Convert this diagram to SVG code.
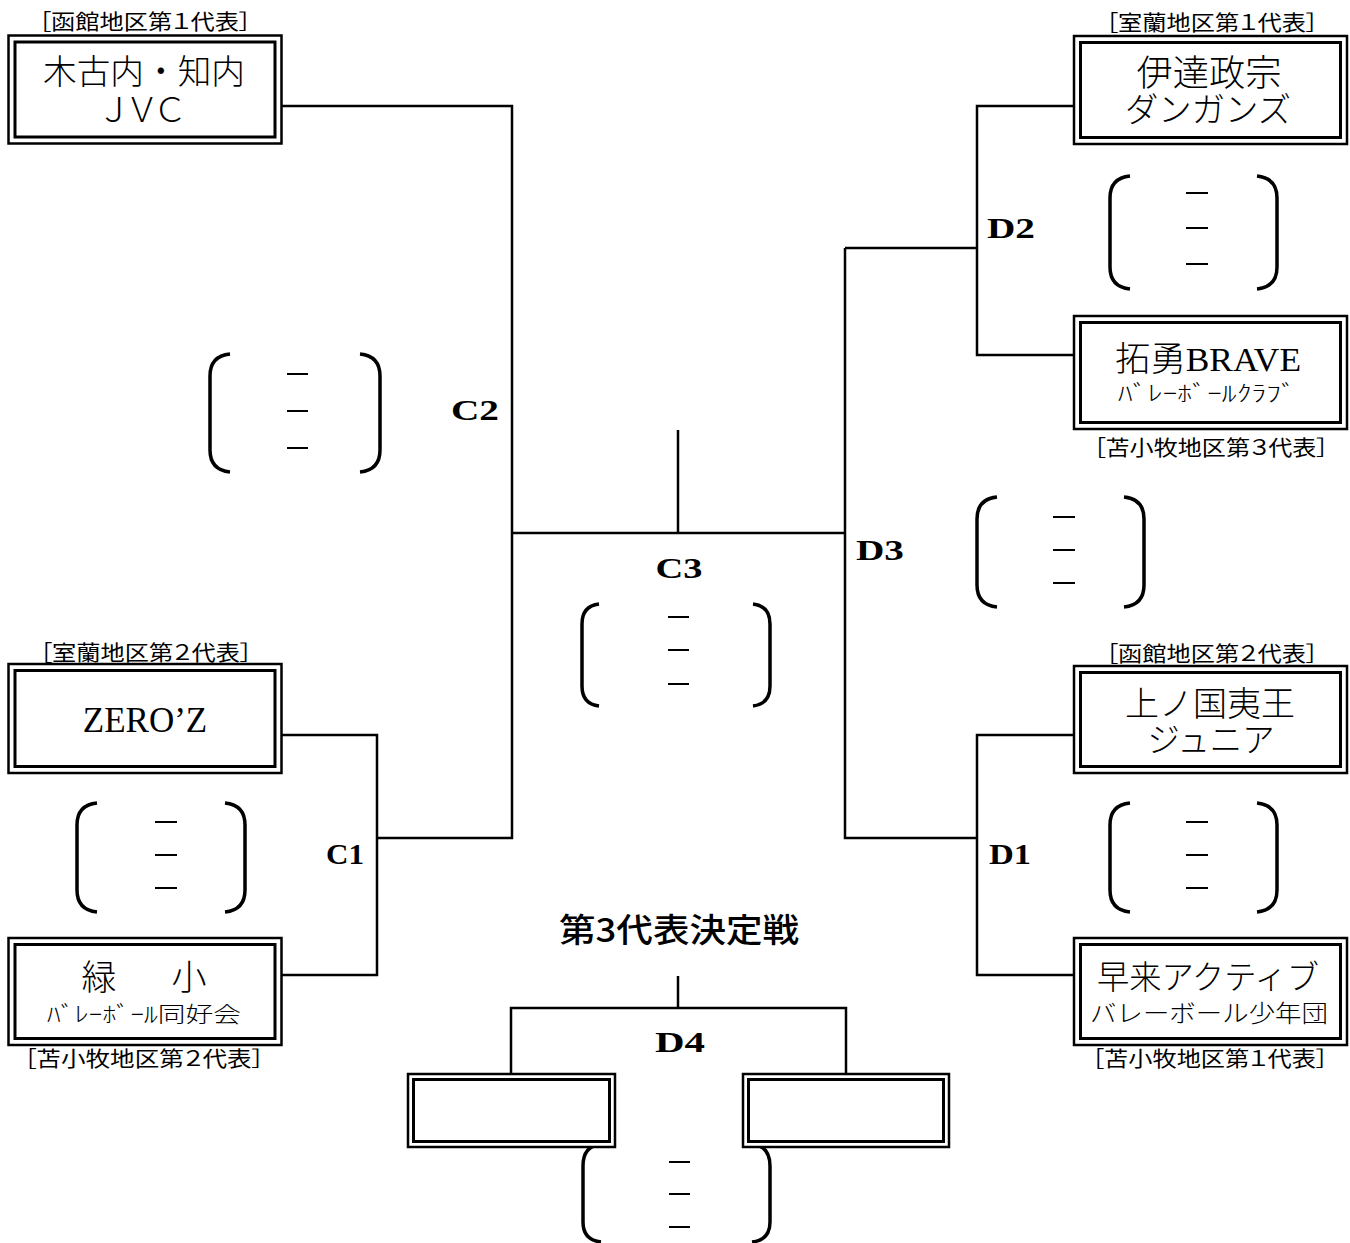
<svg xmlns="http://www.w3.org/2000/svg" width="1350" height="1243" viewBox="0 0 1350 1243">
<style>
.outer{fill:#fff;stroke:#000;stroke-width:2.5}
.inner{fill:none;stroke:#000;stroke-width:3}
.conn path{fill:none;stroke:#000;stroke-width:2.5}
.paren{fill:none;stroke:#000;stroke-width:3.5}
.dash{stroke:#000;stroke-width:2}
.name{font-family:"Liberation Serif","Noto Sans CJK JP",serif;font-weight:300;text-anchor:middle;fill:#000}
.lab{font-family:"Noto Sans CJK JP",sans-serif;font-size:21px;text-anchor:middle;fill:#000;font-feature-settings:"palt"}
.code{font-family:"Liberation Serif",serif;font-weight:bold;font-size:30px;text-anchor:middle;fill:#000}
.title{font-family:"Noto Sans CJK JP",sans-serif;font-weight:500;font-size:33px;text-anchor:middle;fill:#000}
</style>
<rect width="1350" height="1243" fill="#fff"/>

<g id="connectors" class="conn">
<path d="M281.75,106 H512 V838 H377"/>
<path d="M281.75,735 H377 V975 H281.75"/>
<path d="M512,533 H845"/>
<path d="M678,430 V533"/>
<path d="M845,248 V838 H977"/>
<path d="M845,248 H977"/>
<path d="M1074,106 H977 V355 H1074"/>
<path d="M1074,735 H977 V975 H1074"/>
<path d="M678,976 V1008"/>
<path d="M511,1074 V1008 H846 V1074"/>
</g>

<g id="node-kikonai">
<text class="lab" x="145" y="29" textLength="212" lengthAdjust="spacingAndGlyphs">［函館地区第１代表］</text>
<rect class="outer" x="8.5" y="35.5" width="273" height="108"/>
<rect class="inner" x="15" y="42" width="260" height="95"/>
<text class="name" x="144" y="84" font-size="34" textLength="202" lengthAdjust="spacingAndGlyphs">木古内・知内</text>
<text class="name" x="142" y="122" font-size="34" textLength="90" lengthAdjust="spacing">ＪＶＣ</text>
</g>

<g id="node-date">
<text class="lab" x="1212" y="30" textLength="212" lengthAdjust="spacingAndGlyphs">［室蘭地区第１代表］</text>
<rect class="outer" x="1074" y="36" width="273" height="108"/>
<rect class="inner" x="1080.5" y="42.5" width="260" height="95"/>
<text class="name" x="1209" y="86" font-size="36" textLength="145" lengthAdjust="spacingAndGlyphs">伊達政宗</text>
<text class="name" x="1208" y="122" font-size="34" textLength="166" lengthAdjust="spacingAndGlyphs">ダンガンズ</text>
</g>

<g id="node-takuyu">
<rect class="outer" x="1074" y="316" width="273" height="113"/>
<rect class="inner" x="1080.5" y="322.5" width="260" height="100"/>
<text class="name" x="1208" y="371" font-size="34" textLength="186" lengthAdjust="spacingAndGlyphs">拓勇BRAVE</text>
<text class="name" x="1207" y="401" font-size="22" textLength="178" lengthAdjust="spacingAndGlyphs">ﾊﾞﾚｰﾎﾞｰﾙｸﾗﾌﾞ</text>
<text class="lab" x="1211" y="455" textLength="235" lengthAdjust="spacingAndGlyphs">［苫小牧地区第３代表］</text>
</g>

<g id="node-zero">
<text class="lab" x="146" y="660" textLength="212" lengthAdjust="spacingAndGlyphs">［室蘭地区第２代表］</text>
<rect class="outer" x="8.5" y="664" width="273" height="109"/>
<rect class="inner" x="15" y="670.5" width="260" height="96"/>
<text class="name" x="145" y="732" font-size="35">ZERO’Z</text>
</g>

<g id="node-midori">
<rect class="outer" x="8.5" y="938" width="273" height="107"/>
<rect class="inner" x="15" y="944.5" width="260" height="94"/>
<text class="name" x="144" y="990" font-size="35" textLength="125" lengthAdjust="spacing">緑　　小</text>
<text class="name" x="144" y="1022" font-size="22" textLength="194" lengthAdjust="spacingAndGlyphs">ﾊﾞﾚｰﾎﾞｰﾙ同好会</text>
<text class="lab" x="144" y="1066" textLength="240" lengthAdjust="spacingAndGlyphs">［苫小牧地区第２代表］</text>
</g>

<g id="node-kaminokuni">
<text class="lab" x="1212" y="661" textLength="212" lengthAdjust="spacingAndGlyphs">［函館地区第２代表］</text>
<rect class="outer" x="1074" y="666" width="273" height="107"/>
<rect class="inner" x="1080.5" y="672.5" width="260" height="94"/>
<text class="name" x="1210" y="716" font-size="34" textLength="170" lengthAdjust="spacingAndGlyphs">上ノ国夷王</text>
<text class="name" x="1211" y="752" font-size="34" textLength="127" lengthAdjust="spacingAndGlyphs">ジュニア</text>
</g>

<g id="node-hayakita">
<rect class="outer" x="1074" y="938" width="273" height="107"/>
<rect class="inner" x="1080.5" y="944.5" width="260" height="94"/>
<text class="name" x="1208" y="989" font-size="33" textLength="222" lengthAdjust="spacingAndGlyphs">早来アクティブ</text>
<text class="name" x="1209" y="1022" font-size="24" textLength="238" lengthAdjust="spacingAndGlyphs">バレーボール少年団</text>
<text class="lab" x="1210" y="1066" textLength="236" lengthAdjust="spacingAndGlyphs">［苫小牧地区第１代表］</text>
</g>

<g id="score-c2">
<path class="paren" d="M230,354 Q210,356 210,376 V450 Q210,470 230,472"/>
<path class="paren" d="M360,354 Q380,356 380,376 V450 Q380,470 360,472"/>
<path class="dash" d="M287,374 H308 M287,411 H308 M287,448 H308"/>
</g>
<g id="score-c1">
<path class="paren" d="M97,803 Q77,805 77,825 V890 Q77,910 97,912"/>
<path class="paren" d="M225,803 Q245,805 245,825 V890 Q245,910 225,912"/>
<path class="dash" d="M155,822 H177 M155,855 H177 M155,888 H177"/>
</g>
<g id="score-d2">
<path class="paren" d="M1130,176 Q1110,178 1110,198 V267 Q1110,287 1130,289"/>
<path class="paren" d="M1257,176 Q1277,178 1277,198 V267 Q1277,287 1257,289"/>
<path class="dash" d="M1186,193 H1208 M1186,228 H1208 M1186,264 H1208"/>
</g>
<g id="score-d3">
<path class="paren" d="M997,497 Q977,499 977,519 V585 Q977,605 997,607"/>
<path class="paren" d="M1124,497 Q1144,499 1144,519 V585 Q1144,605 1124,607"/>
<path class="dash" d="M1053,517 H1075 M1053,550 H1075 M1053,583 H1075"/>
</g>
<g id="score-d1">
<path class="paren" d="M1130,803 Q1110,805 1110,825 V890 Q1110,910 1130,912"/>
<path class="paren" d="M1257,803 Q1277,805 1277,825 V890 Q1277,910 1257,912"/>
<path class="dash" d="M1186,822 H1208 M1186,855 H1208 M1186,888 H1208"/>
</g>
<g id="score-c3">
<path class="paren" d="M599,604 Q582,606 582,624 V686 Q582,704 599,706"/>
<path class="paren" d="M753,604 Q770,606 770,624 V686 Q770,704 753,706"/>
<path class="dash" d="M668,617 H689 M668,650 H689 M668,684 H689"/>
</g>

<g id="labels">
<text class="code" x="475" y="420" textLength="48" lengthAdjust="spacingAndGlyphs">C2</text>
<text class="code" x="345" y="864" textLength="38" lengthAdjust="spacingAndGlyphs">C1</text>
<text class="code" x="679" y="578" textLength="47" lengthAdjust="spacingAndGlyphs">C3</text>
<text class="code" x="880" y="560" textLength="48" lengthAdjust="spacingAndGlyphs">D3</text>
<text class="code" x="1011" y="238" textLength="48" lengthAdjust="spacingAndGlyphs">D2</text>
<text class="code" x="1010" y="864" textLength="42" lengthAdjust="spacingAndGlyphs">D1</text>
<text class="code" x="680" y="1052" textLength="50" lengthAdjust="spacingAndGlyphs">D4</text>
<text class="title" x="679" y="942" textLength="240" lengthAdjust="spacingAndGlyphs">第3代表決定戦</text>
</g>

<g id="score-d4">
<path class="paren" d="M601,1144 Q583,1146 583,1166 V1222 Q583,1240 601,1242"/>
<path class="paren" d="M752,1144 Q770,1146 770,1166 V1222 Q770,1240 752,1242"/>
<path class="dash" d="M669,1162 H690 M669,1194 H690 M669,1227 H690"/>
</g>

<g id="node-d4-left">
<rect class="outer" x="408" y="1074" width="207" height="73"/>
<rect class="inner" x="413.5" y="1079.5" width="196" height="62"/>
</g>
<g id="node-d4-right">
<rect class="outer" x="743" y="1074" width="206" height="73"/>
<rect class="inner" x="748.5" y="1079.5" width="195" height="62"/>
</g>
</svg>
